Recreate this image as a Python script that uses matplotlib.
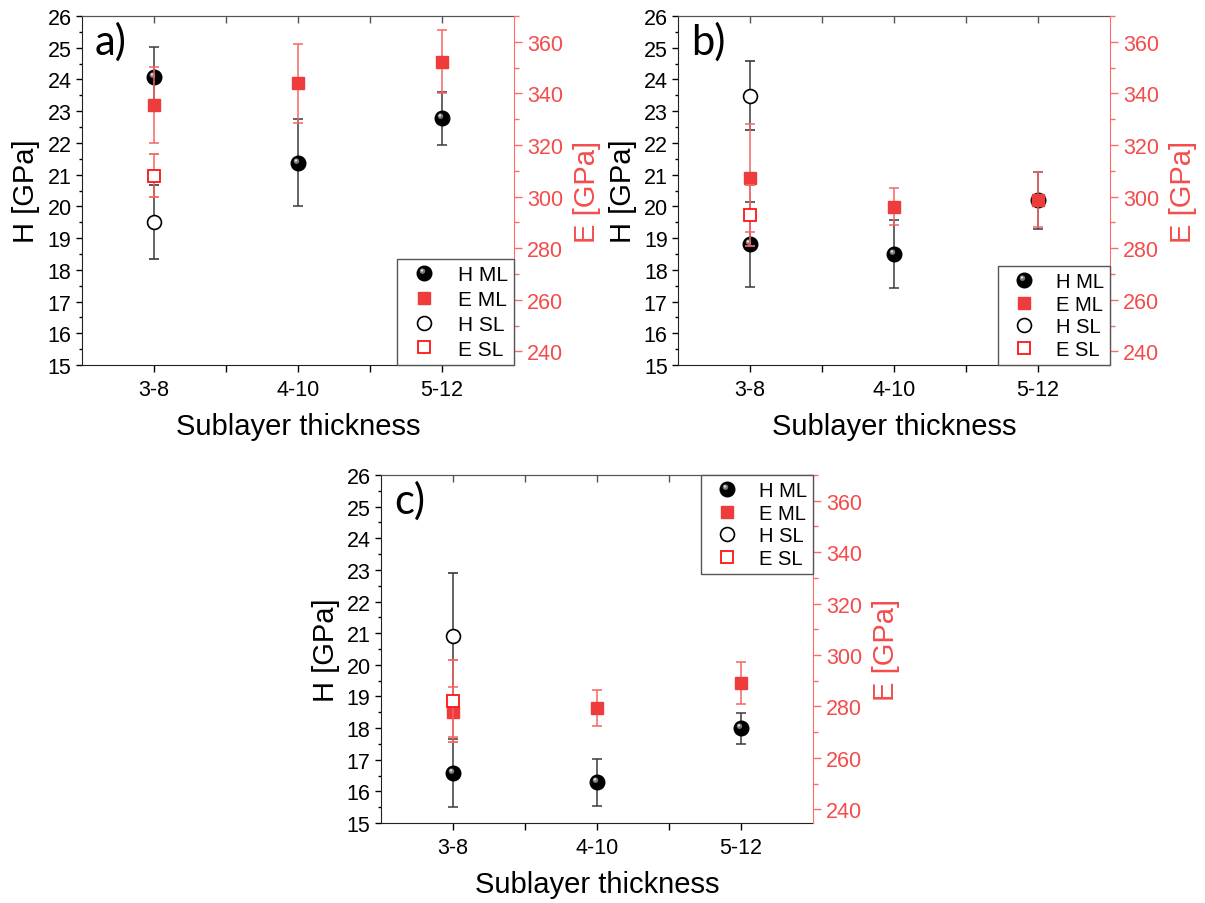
import numpy as np
import matplotlib
matplotlib.use('Agg')
import matplotlib.pyplot as plt
from matplotlib.path import Path
from matplotlib.lines import Line2D
from matplotlib.ticker import MultipleLocator

plt.rcParams['font.family'] = ['Liberation Sans', 'DejaVu Sans']

categories = ['3-8', '4-10', '5-12']

# panel a)
a_h_ml = [24.07, 21.38, 22.78]
a_h_ml_err = [0.95, 1.36, 0.84]
a_e_ml = [335.5, 343.9, 352.3]
a_e_ml_err = [14.7, 15.2, 12.3]
a_h_sl = [19.50]
a_h_sl_err = [1.16]
a_e_sl = [308.1]
a_e_sl_err = [8.4]

# panel b)
b_h_ml = [18.80, 18.49, 20.19]
b_h_ml_err = [1.33, 1.07, 0.90]
b_e_ml = [307.2, 296.0, 298.8]
b_e_ml_err = [21.0, 7.2, 10.7]
b_h_sl = [23.49]
b_h_sl_err = [1.08]
b_e_sl = [292.7]
b_e_sl_err = [11.7]

# panel c)
c_h_ml = [16.58, 16.28, 17.99]
c_h_ml_err = [1.06, 0.74, 0.49]
c_e_ml = [277.8, 279.5, 289.0]
c_e_ml_err = [9.6, 7.0, 8.2]
c_h_sl = [20.90]
c_h_sl_err = [1.99]
c_e_sl = [282.0]
c_e_sl_err = [16.0]

legend_labels = ['H ML', 'E ML', 'H SL', 'E SL']

BLACK_ERR = '#3a3a3a'
RED = '#ee3b3b'
RED_ERR = '#f46464'
RED_AX = '#ff6b6b'
RED_TXT = '#f44c4c'
RED_OPEN = '#ff1515'


def spot_marker(cx, cy, r):
    # off-centre disc used as the highlight of the "sphere" markers
    circ = Path.circle(center=(cx, cy), radius=r)
    verts = np.vstack([[[-1, -1], [1, 1]], circ.vertices])
    codes = np.concatenate([[Path.MOVETO, Path.MOVETO], circ.codes])
    return Path(verts, codes)


spot_big = spot_marker(-0.28, 0.32, 0.38)
spot_small = spot_marker(-0.35, 0.42, 0.16)

fig = plt.figure(figsize=(12.05, 9.04), dpi=100)


def draw_panel(rect, tag, h_ml, h_ml_err, e_ml, e_ml_err, h_sl, h_sl_err,
               e_sl, e_sl_err, leg_loc, leg_fs, leg_space):
    ax = fig.add_axes(rect)
    x = np.arange(len(categories))

    ax.errorbar(x, h_ml, yerr=h_ml_err, fmt='o', ms=10.5, mfc='black', mec='black',
                ecolor=BLACK_ERR, elinewidth=1.1, capsize=3.3, capthick=1.1, zorder=3)
    ax.plot(x, h_ml, ls='none', marker=spot_big, ms=10.5, mfc='#7a7a7a', mec='none', zorder=4)
    ax.plot(x, h_ml, ls='none', marker=spot_small, ms=10.5, mfc='#e6e6e6', mec='none', zorder=4)
    ax.errorbar(x[:len(h_sl)], h_sl, yerr=h_sl_err, fmt='o', ms=10, mfc='white', mec='black',
                mew=1.2, ecolor=BLACK_ERR, elinewidth=1.1, capsize=3.3, capthick=1.1, zorder=3)

    ax.set_xlim(-0.5, 2.5)
    ax.set_ylim(15, 26)
    ax.set_xticks(x)
    ax.set_xticklabels(categories)
    ax.set_xticks([0.5, 1.5], minor=True)
    ax.yaxis.set_major_locator(MultipleLocator(1))
    ax.yaxis.set_minor_locator(MultipleLocator(0.5))
    ax.tick_params(axis='y', which='major', direction='out', length=4.5, width=1,
                   labelsize=15.5, pad=3)
    ax.tick_params(axis='y', which='minor', direction='out', length=2.5, width=1)
    ax.tick_params(axis='x', which='both', direction='out', length=5, width=1,
                   labelsize=15.5, pad=5)
    ax.spines['right'].set_visible(False)
    ax.spines['top'].set_color('#555555')
    for s in ['left', 'bottom']:
        ax.spines[s].set_color('#222222')
    ax.set_ylabel('H [GPa]', fontsize=21, labelpad=5)
    ax.set_xlabel('Sublayer thickness', fontsize=21, labelpad=9)

    top = ax.secondary_xaxis('top')
    top.set_xticks(x)
    top.set_xticks([0.5, 1.5], minor=True)
    top.tick_params(which='both', direction='in', length=5, width=1, labeltop=False,
                    color='#555555')
    top.spines['top'].set_color('#555555')

    ax2 = ax.twinx()
    ax2.errorbar(x, e_ml, yerr=e_ml_err, fmt='s', ms=9, mfc=RED, mec=RED,
                 ecolor=RED_ERR, elinewidth=1.1, capsize=3.5, capthick=1.1, zorder=3)
    ax2.errorbar(x[:len(e_sl)], e_sl, yerr=e_sl_err, fmt='s', ms=8.5, mfc='white', mec=RED_OPEN,
                 mew=1.3, ecolor=RED_ERR, elinewidth=1.1, capsize=3.5, capthick=1.1, zorder=4)
    ax2.set_ylim(234.7, 370)
    ax2.yaxis.set_major_locator(MultipleLocator(20))
    ax2.yaxis.set_minor_locator(MultipleLocator(10))
    ax2.tick_params(axis='y', which='major', direction='out', length=5.5, width=1,
                    color=RED_AX, labelcolor=RED_TXT, labelsize=15.5, pad=4)
    ax2.tick_params(axis='y', which='minor', direction='out', length=3.5, width=1,
                    color=RED_AX)
    for s in ['left', 'top', 'bottom']:
        ax2.spines[s].set_visible(False)
    ax2.spines['right'].set_color(RED_AX)
    ax2.set_ylabel('E [GPa]', fontsize=21, color=RED_TXT, labelpad=7)

    ax.text(0.030, 0.892, tag, transform=ax.transAxes, fontsize=30,
            family=['Lato', 'DejaVu Sans'], va='baseline', ha='left')

    handles = [
        (Line2D([], [], ls='none', marker='o', ms=10.5, mfc='black', mec='black'),
         Line2D([], [], ls='none', marker=spot_big, ms=10.5, mfc='#7a7a7a', mec='none'),
         Line2D([], [], ls='none', marker=spot_small, ms=10.5, mfc='#e6e6e6', mec='none')),
        Line2D([], [], ls='none', marker='s', ms=9, mfc=RED, mec=RED),
        Line2D([], [], ls='none', marker='o', ms=10, mfc='white', mec='black', mew=1.2),
        Line2D([], [], ls='none', marker='s', ms=8.5, mfc='white', mec=RED_OPEN, mew=1.3),
    ]
    leg = ax2.legend(handles, legend_labels, loc=leg_loc, borderaxespad=0, fontsize=leg_fs,
                     frameon=True, fancybox=False, edgecolor='#555555', framealpha=1,
                     borderpad=0.3, handlelength=2.0, handletextpad=0.6,
                     labelspacing=leg_space)
    leg.get_frame().set_linewidth(1.0)
    return ax, ax2


draw_panel([0.0680, 0.5951, 0.3585, 0.3861], 'a)', a_h_ml, a_h_ml_err, a_e_ml, a_e_ml_err,
           a_h_sl, a_h_sl_err, a_e_sl, a_e_sl_err, 'lower right', 15, 0.28)
draw_panel([0.5627, 0.5951, 0.3585, 0.3861], 'b)', b_h_ml, b_h_ml_err, b_e_ml, b_e_ml_err,
           b_h_sl, b_h_sl_err, b_e_sl, b_e_sl_err, 'lower right', 14.5, 0.18)
draw_panel([0.3162, 0.0885, 0.3585, 0.3850], 'c)', c_h_ml, c_h_ml_err, c_e_ml, c_e_ml_err,
           c_h_sl, c_h_sl_err, c_e_sl, c_e_sl_err, 'upper right', 14.5, 0.18)

fig.savefig('out.png', dpi=100)
